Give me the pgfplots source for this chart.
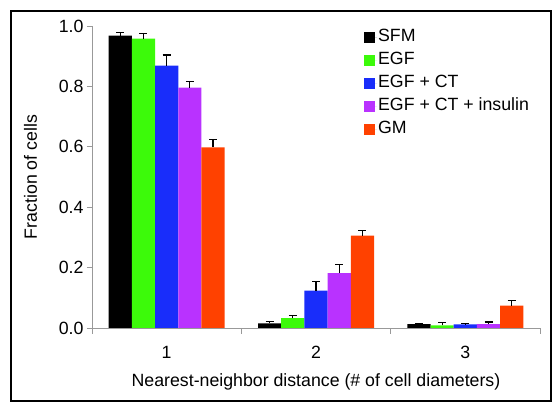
\documentclass[border=0pt]{standalone}
\usepackage{fontspec}
\setmainfont{Liberation Sans}
\usepackage{pgfplots}
\pgfplotsset{compat=1.18}
\definecolor{cgreen}{RGB}{60,250,10}
\definecolor{cblue}{RGB}{25,45,250}
\definecolor{cpurple}{RGB}{185,50,255}
\definecolor{corange}{RGB}{255,65,0}
\newcommand{\myfont}{\fontsize{17.8}{21}\selectfont}
\begin{document}
\begin{tikzpicture}
\path[use as bounding box] (-92bp,-83bp) rectangle (468bp,328bp);
\begin{axis}[
  scale only axis, width=448bp, height=302bp,
  anchor=south west, at={(0,0)},
  xmin=0.5, xmax=3.5, ymin=0, ymax=1,
  axis x line*=bottom, axis y line*=left,
  axis line style={draw=gray!80, line width=0.8pt},
  every tick/.style={draw=gray!80, line width=0.8pt},
  tick align=outside,
  xtick={1,2,3}, xticklabels={1,2,3},
  major x tick style={draw=none},
  minor xtick={0.5,1.5,2.5,3.5},
  minor tick length=6bp, major tick length=5bp,
  ytick={0,0.2,0.4,0.6,0.8,1.0},
  yticklabel style={/pgf/number format/.cd, fixed, fixed zerofill, precision=1, assume math mode=true},
  tick label style={font=\myfont},
  xticklabel style={anchor=base, yshift=-25bp},
  xlabel={Nearest-neighbor distance (\# of cell diameters)},
  ylabel={Fraction of cells},
  every axis x label/.style={at={(rel axis cs:0.5,0)}, anchor=base, yshift=-58bp, font=\myfont},
  every axis y label/.style={at={(rel axis cs:0,0.5)}, xshift=-55bp, rotate=90, anchor=base, font=\myfont},
  ybar=0pt, bar width=23.2bp,
  error bars/y dir=plus, error bars/y explicit,
  error bars/error bar style={black, line width=1.2pt},
  error bars/error mark options={black, rotate=90, mark size=4bp, line width=1.2pt},
  legend style={at={(rel axis cs:0.607,0.995)}, anchor=north west, draw=none, fill=none,
    font=\myfont, inner sep=0pt, row sep=4bp,
    nodes={inner sep=1bp, text height=13bp, text depth=4bp}},
  legend cell align=left,
  legend image code/.code={\fill[#1] (0bp,-5.5bp) rectangle (11bp,5.5bp); \path (0bp,0bp) -- (13bp,0bp);},
]
\addplot[fill=black, draw=none] coordinates {(1,0.968) +- (0,0.010) (2,0.015) +- (0,0.007) (3,0.013) +- (0,0.002)};
\addplot[fill=cgreen, draw=none] coordinates {(1,0.958) +- (0,0.017) (2,0.033) +- (0,0.008) (3,0.009) +- (0,0.009)};
\addplot[fill=cblue, draw=none] coordinates {(1,0.869) +- (0,0.035) (2,0.124) +- (0,0.031) (3,0.012) +- (0,0.002)};
\addplot[fill=cpurple, draw=none] coordinates {(1,0.796) +- (0,0.019) (2,0.182) +- (0,0.028) (3,0.013) +- (0,0.007)};
\addplot[fill=corange, draw=none] coordinates {(1,0.598) +- (0,0.026) (2,0.306) +- (0,0.018) (3,0.074) +- (0,0.017)};
\legend{SFM, EGF, EGF + CT, EGF + CT + insulin, GM}
\end{axis}
\draw[line width=1.6pt] (-81bp,-73bp) rectangle (459bp,317bp);
\end{tikzpicture}
\end{document}
